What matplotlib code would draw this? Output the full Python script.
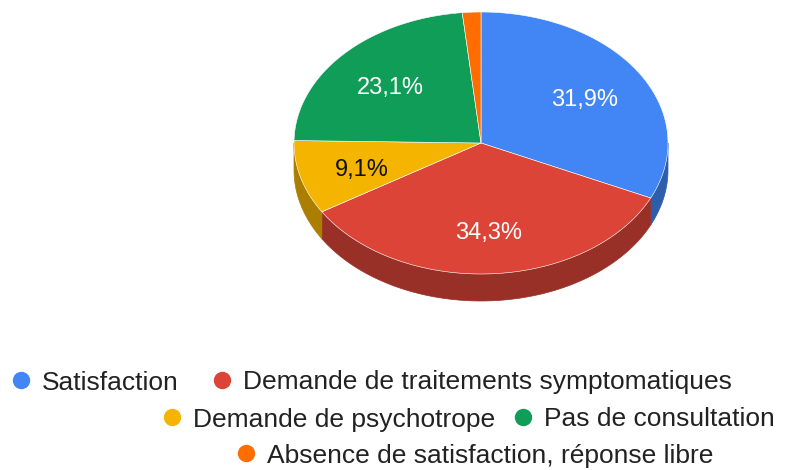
import numpy as np
import matplotlib
matplotlib.use("Agg")
import matplotlib.pyplot as plt
from matplotlib.patches import Polygon
from matplotlib.colors import to_rgb

categories = ["Satisfaction", "Demande de traitements symptomatiques",
              "Demande de psychotrope", "Pas de consultation",
              "Absence de satisfaction, réponse libre"]
values = [31.9, 34.3, 9.1, 23.1, 1.6]
labels = ["31,9%", "34,3%", "9,1%", "23,1%", ""]
colors = ["#4285F4", "#DB4437", "#F4B400", "#0F9D58", "#FF6D00"]
label_colors = ["white", "white", "#111111", "white", "white"]

W, H = 804, 470
fig = plt.figure(figsize=(W / 100, H / 100), dpi=100)
ax = fig.add_axes([0, 0, 1, 1])
ax.set_xlim(0, W)
ax.set_ylim(H, 0)
ax.axis("off")

FONT = "Liberation Sans"
cx, cy, rx, ry, depth = 481, 143, 187, 131, 27


def pt(theta_deg, k=1.0):
    t = np.radians(theta_deg)
    return cx + k * rx * np.sin(t), cy - k * ry * np.cos(t)


def darker(c, f=0.7):
    r, g, b = to_rgb(c)
    return (r * f, g * f, b * f)


total = sum(values)
angles = np.cumsum([0] + [v / total * 360 for v in values])

# sides (visible front half: 90..270 degrees)
for i, c in enumerate(colors):
    a0, a1 = angles[i], angles[i + 1]
    s0, s1 = max(a0, 90), min(a1, 270)
    if s1 > s0:
        th = np.linspace(s0, s1, 80)
        xs, ys = pt(th)
        poly = np.concatenate([np.column_stack([xs, ys]),
                               np.column_stack([xs[::-1], ys[::-1] + depth])])
        ax.add_patch(Polygon(poly, closed=True, facecolor=darker(c), edgecolor=darker(c), lw=0.5))

# tops
for i, c in enumerate(colors):
    a0, a1 = angles[i], angles[i + 1]
    th = np.linspace(a0, a1, 120)
    xs, ys = pt(th)
    poly = np.concatenate([[[cx, cy]], np.column_stack([xs, ys])])
    ax.add_patch(Polygon(poly, closed=True, facecolor=c, edgecolor="#ffffff", lw=0.4))

# labels
for i, lab in enumerate(labels):
    if not lab:
        continue
    mid = (angles[i] + angles[i + 1]) / 2
    x, y = pt(mid, 0.66)
    ax.text(x, y + 4, lab, ha="center", va="center", fontsize=17,
            color=label_colors[i], family=FONT)

# legend
leg_pos = [(21, 380), (222, 380), (172, 417), (523, 417), (246, 453)]
for (x, y), c, name in zip(leg_pos, colors, categories):
    ax.plot([x], [y], marker="o", ms=11.5, color=c, mec=c)
    ax.text(x + 21, y, name, ha="left", va="center_baseline", fontsize=19,
            color="#222222", family=FONT)

fig.savefig("out.png", dpi=100, facecolor="white")
